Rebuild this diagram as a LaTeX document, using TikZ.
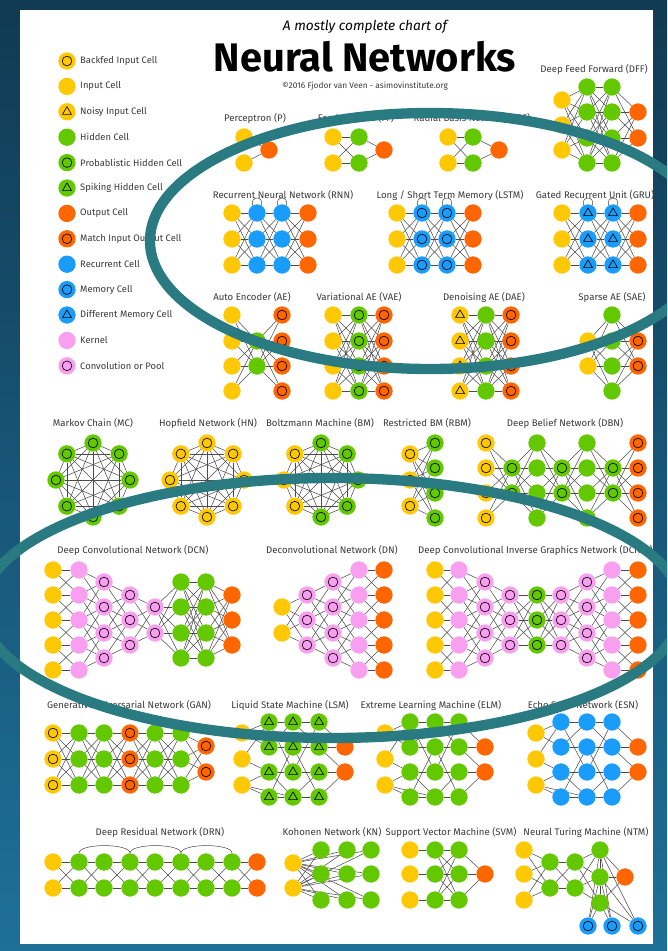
\documentclass[tikz,border=0pt]{standalone}
\usepackage{fontspec}
\setmainfont{Fira Sans}

\definecolor{inputc}{HTML}{FFC805}
\definecolor{hiddenc}{HTML}{64C800}
\definecolor{outputc}{HTML}{FF6600}
\definecolor{recurc}{HTML}{1A9CFA}
\definecolor{kernelc}{HTML}{F99FF0}
\definecolor{textc}{HTML}{3A3A3A}
\definecolor{bgtop}{HTML}{113A53}
\definecolor{bgbottom}{HTML}{1E7099}
\definecolor{ringc}{HTML}{2A7A82}

\pgfdeclarelayer{back}
\pgfdeclarelayer{wires}
\pgfsetlayers{back,wires,main}

\tikzset{
  cell/.style={circle, minimum size=0.52cm, inner sep=0pt},
  ringmark/.style={path picture={\draw[line width=0.55pt] (path picture bounding box.center) circle[radius=0.145cm];}},
  trimark/.style={path picture={\draw[line width=0.55pt, line join=round, shift={(path picture bounding box.center)}] (90:0.155cm) -- (210:0.155cm) -- (330:0.155cm) -- cycle;}},
  input/.style={cell, fill=inputc},
  backfed/.style={input, ringmark},
  noisy/.style={input, trimark},
  hidden/.style={cell, fill=hiddenc},
  prob/.style={hidden, ringmark},
  spiking/.style={hidden, trimark},
  output/.style={cell, fill=outputc},
  match/.style={output, ringmark},
  recur/.style={cell, fill=recurc},
  memory/.style={recur, ringmark},
  diffmem/.style={recur, trimark},
  kernel/.style={cell, fill=kernelc},
  conv/.style={kernel, ringmark},
  wire/.style={draw=black!70, line width=0.45pt},
  netname/.style={text=textc, font=\fontsize{8.2}{9}\selectfont, inner sep=0pt},
  keytext/.style={netname, font=\fontsize{8}{9}\selectfont, anchor=west}
}

\newcommand\layer[4]{\foreach \yy [count=\k] in {#4} {\node[#3] (#1-\k) at (#2,\yy) {};}}
\newcommand\fulllink[4]{\foreach \i in {1,...,#2} {\foreach \j in {1,...,#4} {\draw[wire] (#1-\i) -- (#3-\j);}}}
\newcommand\bandlink[6]{\foreach \i in {1,...,#2} {\foreach \j in {1,...,#4} {%
  \pgfmathtruncatemacro\dd{\j-\i}%
  \ifnum\dd<#5\relax\else\ifnum\dd>#6\relax\else\draw[wire] (#1-\i) -- (#3-\j);\fi\fi}}}
\newcommand\octring[4]{\foreach \s [count=\k] in {#4} {\node[\s] (#1-\k) at ({#2+37*sin(45*(\k-1))},{#3-37*cos(45*(\k-1))}) {};}}
\newcommand\clique[1]{\foreach \i in {1,...,7} {\pgfmathtruncatemacro\nx{\i+1}\foreach \j in {\nx,...,8} {\draw[wire] (#1-\i) -- (#1-\j);}}}
\newcommand\sparselink[1]{\foreach \u/\v in {i-1/a-1, i-1/a-2, i-2/a-1, i-2/a-3, i-3/a-3, i-3/a-4, i-3/b-4, a-1/b-1, a-1/b-3, a-2/b-2, a-2/b-1, a-3/b-3, a-3/b-4, a-4/b-4, a-4/b-2, b-1/c-1, b-1/c-2, b-2/c-2, b-2/c-4, b-3/c-3, b-3/c-1, b-4/c-4, b-4/c-3, c-1/o-1, c-2/o-1, c-2/o-2, c-3/o-2, c-4/o-2} {\draw[wire] (#1-\u) -- (#1-\v);}}

\begin{document}
\begin{tikzpicture}[x=0.03cm, y=-0.03cm]
\useasboundingbox (0,0) rectangle (667,951);
\begin{pgfonlayer}{back}
\shade[top color=bgtop, bottom color=bgbottom] (0,0) rectangle (667,951);
\fill[white] (20,10) rectangle (653,944);
\end{pgfonlayer}

\node[text=black, font=\itshape\fontsize{11.7}{13}\selectfont] (subtitle) at (365,27) {A mostly complete chart of};
\node[text=black, font=\bfseries\fontsize{34}{38}\selectfont, inner sep=0pt, anchor=base] (title) at (365,71) {Neural Networks};
\node[netname, font=\fontsize{7.1}{8}\selectfont] (credit) at (365,86) {©2016 Fjodor van Veen - asimovinstitute.org};

\foreach \s/\t [count=\n] in {backfed/Backfed Input Cell, input/Input Cell, noisy/Noisy Input Cell, hidden/Hidden Cell, prob/Probablistic Hidden Cell, spiking/Spiking Hidden Cell, output/Output Cell, match/Match Input Output Cell, recur/Recurrent Cell, memory/Memory Cell, diffmem/Different Memory Cell, kernel/Kernel, conv/Convolution or Pool} {
  \node[\s] (key-\n) at (67,{61+25.4*(\n-1)}) {};
  \node[keytext] (keyname-\n) at (80,{61+25.4*(\n-1)}) {\t};
}

\node[netname] (p-name) at (255,118) {Perceptron (P)};
\node[netname] (ff-name) at (356,118) {Feed Forward (FF)};
\node[netname] (rbf-name) at (472,118) {Radial Basis Network (RBF)};
\node[netname] (dff-name) at (594,69) {Deep Feed Forward (DFF)};
\node[netname] (rnn-name) at (283,195) {Recurrent Neural Network (RNN)};
\node[netname] (lstm-name) at (450,195) {Long / Short Term Memory (LSTM)};
\node[netname] (gru-name) at (595,195) {Gated Recurrent Unit (GRU)};
\node[netname] (ae-name) at (252,297) {Auto Encoder (AE)};
\node[netname] (vae-name) at (359,297) {Variational AE (VAE)};
\node[netname] (dae-name) at (484,297) {Denoising AE (DAE)};
\node[netname] (sae-name) at (612,297) {Sparse AE (SAE)};
\node[netname] (mc-name) at (93,423) {Markov Chain (MC)};
\node[netname] (hn-name) at (208,423) {Hopfield Network (HN)};
\node[netname] (bm-name) at (320,423) {Boltzmann Machine (BM)};
\node[netname] (rbm-name) at (427,423) {Restricted BM (RBM)};
\node[netname] (dbn-name) at (565,423) {Deep Belief Network (DBN)};
\node[netname] (dcn-name) at (133,550) {Deep Convolutional Network (DCN)};
\node[netname] (dn-name) at (332,550) {Deconvolutional Network (DN)};
\node[netname, anchor=west] (dcign-name) at (418,550) {Deep Convolutional Inverse Graphics Network (DCIGN)};
\node[netname] (gan-name) at (129,705) {Generative Adversarial Network (GAN)};
\node[netname] (lsm-name) at (290,705) {Liquid State Machine (LSM)};
\node[netname] (elm-name) at (431,705) {Extreme Learning Machine (ELM)};
\node[netname] (esn-name) at (583,705) {Echo State Network (ESN)};
\node[netname] (drn-name) at (160,832) {Deep Residual Network (DRN)};
\node[netname] (kn-name) at (332,832) {Kohonen Network (KN)};
\node[netname] (svm-name) at (451,832) {Support Vector Machine (SVM)};
\node[netname] (ntm-name) at (586,832) {Neural Turing Machine (NTM)};

\layer{p-in}{244}{input}{137,163}
\layer{p-out}{269}{output}{150}
\layer{ff-in}{333}{input}{137,163}
\layer{ff-h}{359}{hidden}{137,163}
\layer{ff-out}{384}{output}{150}
\layer{rbf-in}{448}{input}{137,163}
\layer{rbf-h}{473}{hidden}{137,163}
\layer{rbf-out}{499}{output}{150}
\layer{dff-in}{562}{input}{100,125,150}
\layer{dff-h1}{587}{hidden}{87,112,138,163}
\layer{dff-h2}{612}{hidden}{87,112,138,163}
\layer{dff-out}{638}{output}{112,138}

\layer{rnn-in}{232}{input}{213,239,265}
\layer{rnn-h1}{257}{recur}{213,239,265}
\layer{rnn-h2}{282}{recur}{213,239,265}
\layer{rnn-out}{308}{output}{213,239,265}
\layer{lstm-in}{397}{input}{213,239,265}
\layer{lstm-h1}{422}{memory}{213,239,265}
\layer{lstm-h2}{447}{memory}{213,239,265}
\layer{lstm-out}{473}{output}{213,239,265}
\layer{gru-in}{562}{input}{213,239,265}
\layer{gru-h1}{588}{diffmem}{213,239,265}
\layer{gru-h2}{613}{diffmem}{213,239,265}
\layer{gru-out}{638}{output}{213,239,265}

\layer{ae-in}{232}{input}{315,341,366,391}
\layer{ae-h}{257}{hidden}{341,366}
\layer{ae-out}{282}{match}{315,341,366,391}
\layer{vae-in}{333}{input}{315,341,366,391}
\layer{vae-h}{359}{prob}{315,341,366,391}
\layer{vae-out}{384}{match}{315,341,366,391}
\layer{dae-in}{460}{noisy}{315,341,366,391}
\layer{dae-h}{486}{hidden}{315,341,366,391}
\layer{dae-out}{511}{match}{315,341,366,391}
\layer{sae-in}{588}{input}{341,366}
\layer{sae-h}{612}{hidden}{315,341,366,391}
\layer{sae-out}{638}{match}{341,366}

\octring{mc}{93}{480}{prob,prob,prob,prob,prob,prob,prob,prob}
\octring{hn}{207}{480}{backfed,backfed,backfed,backfed,backfed,backfed,backfed,backfed}
\octring{bm}{321}{480}{prob,prob,prob,prob,prob,backfed,backfed,backfed}
\layer{rbm-in}{410}{backfed}{454,480,506}
\layer{rbm-h}{435}{prob}{443,468,493,518}
\layer{dbn-in}{486}{backfed}{443,468,493,518}
\layer{dbn-p1}{512}{prob}{468,493}
\layer{dbn-h1}{537}{hidden}{443,468,493,518}
\layer{dbn-p2}{562}{prob}{468,493}
\layer{dbn-h2}{587}{hidden}{443,468,493,518}
\layer{dbn-p3}{613}{prob}{468,493}
\layer{dbn-out}{638}{match}{443,468,493,518}

\layer{dcn-in}{53}{input}{570,595,620,645,670}
\layer{dcn-k}{79}{kernel}{570,595,620,645,670}
\layer{dcn-c1}{104}{conv}{582,607,633,658}
\layer{dcn-c2}{130}{conv}{595,620,645}
\layer{dcn-c3}{155}{conv}{607,633}
\layer{dcn-h1}{181}{hidden}{582,607,633,658}
\layer{dcn-h2}{206}{hidden}{582,607,633,658}
\layer{dcn-out}{232}{output}{595,620,645}
\layer{dn-in}{282}{input}{607,633}
\layer{dn-c1}{307}{conv}{595,620,645}
\layer{dn-c2}{333}{conv}{582,607,633,658}
\layer{dn-k}{359}{kernel}{570,595,620,645,670}
\layer{dn-out}{384}{output}{570,595,620,645,670}
\layer{dcign-in}{435}{input}{570,595,620,645,670}
\layer{dcign-k1}{459}{kernel}{570,595,620,645,670}
\layer{dcign-c1}{485}{conv}{582,607,633,658}
\layer{dcign-c2}{510}{conv}{595,620,645}
\layer{dcign-z}{537}{prob}{595,620,645}
\layer{dcign-c3}{561}{conv}{595,620,645}
\layer{dcign-c4}{587}{conv}{582,607,633,658}
\layer{dcign-k2}{612}{kernel}{570,595,620,645,670}
\layer{dcign-out}{638}{output}{570,595,620,645,670}

\layer{gan-in}{53}{backfed}{733,759,785}
\layer{gan-h1}{79}{hidden}{733,759,785}
\layer{gan-h2}{104}{hidden}{733,759,785}
\layer{gan-m}{130}{match}{733,759,785}
\layer{gan-h3}{155}{hidden}{733,759,785}
\layer{gan-h4}{181}{hidden}{733,759,785}
\layer{gan-out}{206}{match}{746,772}
\layer{lsm-i}{242}{input}{733,759,785}
\layer{lsm-a}{269}{spiking}{722,747,772,797}
\layer{lsm-b}{293}{spiking}{722,747,772,797}
\layer{lsm-c}{319}{spiking}{722,747,772,797}
\layer{lsm-o}{345}{output}{747,772}
\layer{elm-i}{385}{input}{733,759,785}
\layer{elm-a}{410}{hidden}{722,747,772,797}
\layer{elm-b}{435}{hidden}{722,747,772,797}
\layer{elm-c}{459}{hidden}{722,747,772,797}
\layer{elm-o}{485}{output}{747,772}
\layer{esn-i}{536}{input}{733,759,785}
\layer{esn-a}{561}{recur}{722,747,772,797}
\layer{esn-b}{587}{recur}{722,747,772,797}
\layer{esn-c}{612}{recur}{722,747,772,797}
\layer{esn-o}{638}{output}{747,772}

\layer{drn-in}{53}{input}{862,888}
\foreach \xx [count=\m] in {79,104,130,155,181,206,232} {\layer{drn-h\m}{\xx}{hidden}{862,888}}
\layer{drn-out}{257}{output}{862,888}
\layer{kn-in}{293}{input}{863,888}
\layer{kn-g1}{321}{hidden}{850,874,900}
\layer{kn-g2}{347}{hidden}{850,874,900}
\layer{kn-g3}{371}{hidden}{850,874,900}
\layer{svm-in}{410}{input}{850,874,900}
\layer{svm-h1}{435}{hidden}{850,874,900}
\layer{svm-h2}{459}{hidden}{850,874,900}
\layer{svm-out}{485}{output}{874}
\layer{ntm-in}{524}{input}{850,874,900}
\layer{ntm-h1}{550}{hidden}{862,888}
\layer{ntm-h2}{575}{hidden}{862,888}
\layer{ntm-g}{600}{hidden}{850,877,903}
\layer{ntm-out}{625}{output}{877}
\node[memory] (ntm-m-1) at (588,926) {};
\node[memory] (ntm-m-2) at (612,926) {};
\node[memory] (ntm-m-3) at (638,926) {};

\begin{pgfonlayer}{wires}
\fulllink{p-in}{2}{p-out}{1}
\fulllink{ff-in}{2}{ff-h}{2} \fulllink{ff-h}{2}{ff-out}{1}
\fulllink{rbf-in}{2}{rbf-h}{2} \fulllink{rbf-h}{2}{rbf-out}{1}
\fulllink{dff-in}{3}{dff-h1}{4} \fulllink{dff-h1}{4}{dff-h2}{4} \fulllink{dff-h2}{4}{dff-out}{2}

\fulllink{rnn-in}{3}{rnn-h1}{3} \fulllink{rnn-h1}{3}{rnn-h2}{3} \fulllink{rnn-h2}{3}{rnn-out}{3}
\fulllink{lstm-in}{3}{lstm-h1}{3} \fulllink{lstm-h1}{3}{lstm-h2}{3} \fulllink{lstm-h2}{3}{lstm-out}{3}
\fulllink{gru-in}{3}{gru-h1}{3} \fulllink{gru-h1}{3}{gru-h2}{3} \fulllink{gru-h2}{3}{gru-out}{3}
\foreach \nn in {rnn-h1-1, rnn-h2-1, lstm-h1-1, lstm-h2-1, gru-h1-1, gru-h2-1} {\draw[wire] (\nn.120) .. controls +(105:0.3cm) and +(75:0.3cm) .. (\nn.60);}

\fulllink{ae-in}{4}{ae-h}{2} \fulllink{ae-h}{2}{ae-out}{4}
\fulllink{vae-in}{4}{vae-h}{4} \fulllink{vae-h}{4}{vae-out}{4}
\fulllink{dae-in}{4}{dae-h}{4} \fulllink{dae-h}{4}{dae-out}{4}
\fulllink{sae-in}{2}{sae-h}{4} \fulllink{sae-h}{4}{sae-out}{2}

\clique{mc} \clique{hn} \clique{bm}
\fulllink{rbm-in}{3}{rbm-h}{4}
\fulllink{dbn-in}{4}{dbn-p1}{2} \fulllink{dbn-p1}{2}{dbn-h1}{4} \fulllink{dbn-h1}{4}{dbn-p2}{2}
\fulllink{dbn-p2}{2}{dbn-h2}{4} \fulllink{dbn-h2}{4}{dbn-p3}{2} \fulllink{dbn-p3}{2}{dbn-out}{4}

\bandlink{dcn-in}{5}{dcn-k}{5}{-1}{1}
\bandlink{dcn-k}{5}{dcn-c1}{4}{-2}{1}
\bandlink{dcn-c1}{4}{dcn-c2}{3}{-2}{1}
\fulllink{dcn-c2}{3}{dcn-c3}{2}
\fulllink{dcn-c3}{2}{dcn-h1}{4} \fulllink{dcn-h1}{4}{dcn-h2}{4} \fulllink{dcn-h2}{4}{dcn-out}{3}
\bandlink{dn-in}{2}{dn-c1}{3}{-1}{2}
\bandlink{dn-c1}{3}{dn-c2}{4}{-1}{2}
\bandlink{dn-c2}{4}{dn-k}{5}{-1}{2}
\bandlink{dn-k}{5}{dn-out}{5}{-1}{1}
\bandlink{dcign-in}{5}{dcign-k1}{5}{-1}{1}
\bandlink{dcign-k1}{5}{dcign-c1}{4}{-2}{1}
\bandlink{dcign-c1}{4}{dcign-c2}{3}{-2}{1}
\fulllink{dcign-c2}{3}{dcign-z}{3} \fulllink{dcign-z}{3}{dcign-c3}{3}
\bandlink{dcign-c3}{3}{dcign-c4}{4}{-1}{2}
\bandlink{dcign-c4}{4}{dcign-k2}{5}{-1}{2}
\bandlink{dcign-k2}{5}{dcign-out}{5}{-1}{1}

\fulllink{gan-in}{3}{gan-h1}{3} \fulllink{gan-h1}{3}{gan-h2}{3} \fulllink{gan-h2}{3}{gan-m}{3}
\fulllink{gan-m}{3}{gan-h3}{3} \fulllink{gan-h3}{3}{gan-h4}{3} \fulllink{gan-h4}{3}{gan-out}{2}
\sparselink{lsm} \sparselink{elm} \sparselink{esn}
\foreach \r in {1,...,4} {\draw[wire] (lsm-a-\r) -- (lsm-b-\r) -- (lsm-c-\r); \draw[wire] (elm-a-\r) -- (elm-b-\r) -- (elm-c-\r); \draw[wire] (esn-a-\r) -- (esn-b-\r) -- (esn-c-\r);}

\fulllink{drn-in}{2}{drn-h1}{2}
\foreach \m [evaluate=\m as \nx using int(\m+1)] in {1,...,6} {\fulllink{drn-h\m}{2}{drn-h\nx}{2}}
\fulllink{drn-h7}{2}{drn-out}{2}
\foreach \a/\b in {1/3, 3/5, 5/7} {\draw[wire] (drn-h\a-1.north) .. controls +(0,0.3cm) and +(0,0.3cm) .. (drn-h\b-1.north);}
\fulllink{kn-in}{2}{kn-g1}{3} \fulllink{kn-in}{2}{kn-g2}{3} \fulllink{kn-in}{2}{kn-g3}{3}
\foreach \r in {1,2,3} {\draw[wire] (svm-in-\r) -- (svm-h1-\r);}
\fulllink{svm-h1}{3}{svm-h2}{3} \fulllink{svm-h2}{3}{svm-out}{1}
\fulllink{ntm-in}{3}{ntm-h1}{2} \fulllink{ntm-h1}{2}{ntm-h2}{2} \fulllink{ntm-h2}{2}{ntm-g}{3}
\fulllink{ntm-g}{3}{ntm-out}{1} \fulllink{ntm-g}{3}{ntm-m}{3}
\draw[wire] (ntm-g-1) -- (ntm-g-2) -- (ntm-g-3);
\end{pgfonlayer}

\begin{scope}
\clip (0,0) rectangle (667,951);
\draw[ringc, line width=0.31cm] (430,241) ellipse [x radius=8.4cm, y radius=3.84cm];
\draw[ringc, line width=0.31cm] (332,608) ellipse [x radius=10.5cm, y radius=3.9cm];
\end{scope}
\end{tikzpicture}
\end{document}
